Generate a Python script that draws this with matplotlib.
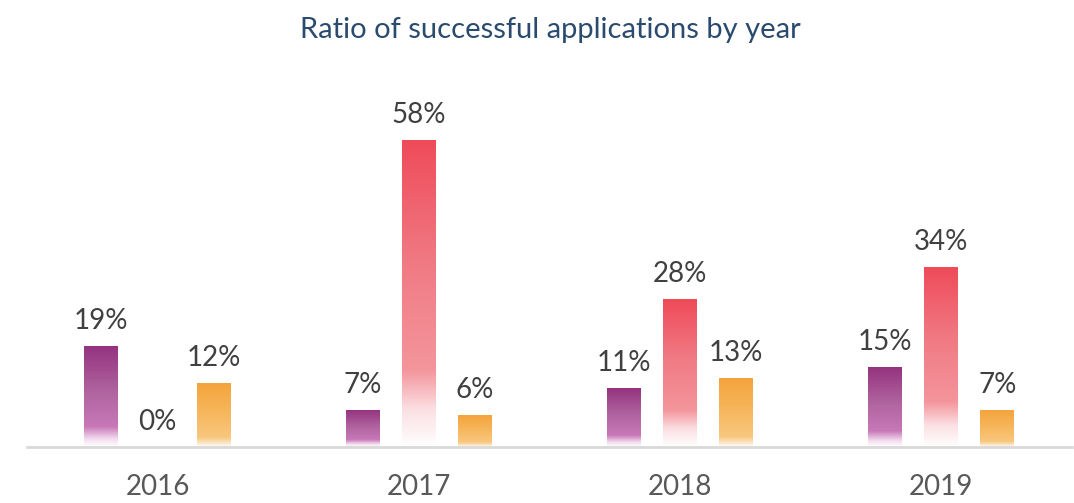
import numpy as np
import matplotlib.pyplot as plt
from matplotlib.colors import LinearSegmentedColormap

years = ['2016', '2017', '2018', '2019']
series_a = [19, 7, 11, 15]
series_b = [0, 58, 28, 34]
series_c = [12, 6, 13, 7]

plt.rcParams['font.family'] = ['Lato', 'DejaVu Sans']

# gradient maps: 0 = bottom of bar, 1 = top of bar
cmaps = [
    LinearSegmentedColormap.from_list('purp', [(0, '#ffffff'), (0.08, '#f2dcee'), (0.2, '#c878b8'), (0.55, '#b0649f'), (1, '#943380')]),
    LinearSegmentedColormap.from_list('red', [(0, '#ffffff'), (0.12, '#fbe0e3'), (0.25, '#f4959c'), (0.6, '#f07a84'), (1, '#ef4b59')]),
    LinearSegmentedColormap.from_list('orng', [(0, '#ffffff'), (0.06, '#fbe6c7'), (0.15, '#f8c77e'), (0.6, '#f6b458'), (1, '#f4a43d')]),
]

fig = plt.figure(figsize=(10.74, 5.03), dpi=100)
ax = fig.add_axes([0.025, 0.112, 0.973, 0.77])

x = np.arange(len(years))
w = 0.13
offs = [-0.215, 0.0, 0.215]
grad = np.linspace(0, 1, 256).reshape(-1, 1)

for vals, off, cm in zip([series_a, series_b, series_c], offs, cmaps):
    for xi, v in zip(x, vals):
        if v > 0:
            ax.imshow(grad, cmap=cm, origin='lower', aspect='auto',
                      extent=(xi + off - w / 2, xi + off + w / 2, 0, v), zorder=2)
        ax.text(xi + off, v + 2.3, f'{v}%', ha='center', va='bottom',
                fontsize=20, color='#404040')

ax.set_xlim(-0.5, 3.5)
ax.set_ylim(0, 73.3)
for s in ['top', 'right', 'left']:
    ax.spines[s].set_visible(False)
ax.spines['bottom'].set_color('#d9d9d9')
ax.spines['bottom'].set_linewidth(2)
ax.set_yticks([])
ax.set_xticks(x)
ax.set_xticklabels(years, fontsize=20, color='#595959')
ax.tick_params(axis='x', length=0, pad=20)

fig.text(0.512, 0.94, 'Ratio of successful applications by year',
         ha='center', va='center', fontsize=21, color='#2a4a6e')

fig.savefig('out.png', dpi=100)
